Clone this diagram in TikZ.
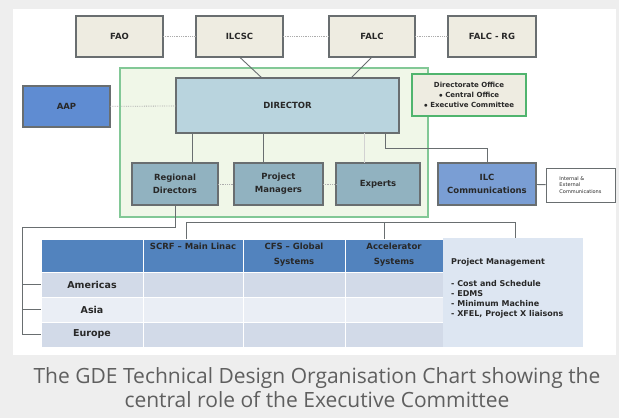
\documentclass[tikz,border=0pt]{standalone}
\usepackage{fontspec}
\setmainfont{DejaVu Sans}
\newfontfamily\capfont{Open Sans}
\usetikzlibrary{calc}

\definecolor{pagegray}{RGB}{238,238,238}
\definecolor{capgray}{RGB}{95,95,95}
\definecolor{beige}{RGB}{238,236,225}
\definecolor{framefill}{RGB}{240,247,232}
\definecolor{framegreen}{RGB}{130,200,150}
\definecolor{officegreen}{RGB}{80,180,110}
\definecolor{dirblue}{RGB}{185,212,222}
\definecolor{subblue}{RGB}{145,178,192}
\definecolor{aapblue}{RGB}{95,140,210}
\definecolor{commblue}{RGB}{122,158,212}
\definecolor{hdrblue}{RGB}{82,131,190}
\definecolor{rowdark}{RGB}{210,218,232}
\definecolor{rowlight}{RGB}{234,238,245}
\definecolor{pmfill}{RGB}{221,230,242}
\definecolor{boxline}{RGB}{105,110,112}
\definecolor{txtdark}{RGB}{40,40,40}

\tikzset{
  orgbox/.style={draw=boxline, line width=1.1pt, inner sep=1pt, outer sep=0pt,
    align=center, text=txtdark, font=\fontsize{8.5}{13}\selectfont\bfseries},
  topbox/.style={orgbox, fill=beige},
  subbox/.style={orgbox, fill=subblue},
  link/.style={draw=boxline, line width=0.9pt},
  dotlink/.style={draw=gray!65, line width=0.8pt, densely dotted},
  cell/.style={draw=white, line width=0.8pt, inner sep=0pt, outer sep=0pt,
    text=txtdark, font=\fontsize{9.5}{11}\selectfont\bfseries},
  hdrtext/.style={inner sep=0pt, align=center, text=txtdark,
    font=\fontsize{8.5}{14.5}\selectfont\bfseries},
}

\begin{document}
\begin{tikzpicture}[x=1pt, y=-1pt]
  \useasboundingbox (0,0) rectangle (619,418);
  % page and caption strip
  \fill[pagegray] (0,0) rectangle (619,418);
  \fill[white] (13,9) rectangle (616,355);

  % committees on top
  \node[topbox, minimum width=87pt, minimum height=41pt] (fao) at (119.5,36.5) {FAO};
  \node[topbox, minimum width=87pt, minimum height=41pt] (ilcsc) at (239.5,36.5) {ILCSC};
  \node[topbox, minimum width=86pt, minimum height=41pt] (falc) at (372,36.5) {FALC};
  \node[topbox, minimum width=88pt, minimum height=41pt] (falcrg) at (492,36.5) {FALC - RG};
  \draw[dotlink] (fao) -- (ilcsc);
  \draw[dotlink] (ilcsc) -- (falc);
  \draw[dotlink] (falc) -- (falcrg);

  % executive committee frame
  \node[draw=framegreen, fill=framefill, line width=1.1pt, minimum width=308pt,
    minimum height=149pt, inner sep=0pt] (exec) at (274,142.5) {};
  \node[orgbox, fill=dirblue, minimum width=223pt, minimum height=55pt] (dir) at (287.5,105.5) {DIRECTOR};
  \node[orgbox, draw=officegreen, fill=beige, minimum width=114pt, minimum height=42pt,
    font=\fontsize{7}{10}\selectfont\bfseries] (office) at (469,95)
    {Directorate Office\\ $\bullet$ Central Office\\ $\bullet$ Executive Committee};
  \node[orgbox, fill=aapblue, minimum width=87pt, minimum height=41pt] (aap) at (66.5,106.5) {AAP};

  \draw[link] (ilcsc.south) -- ($(dir.north)+(-25.5,0)$);
  \draw[link] (falc.south) -- ($(dir.north)+(63.5,0)$);
  \draw[dotlink] (aap) -- (dir);

  % second row
  \node[subbox, minimum width=86pt, minimum height=42pt] (regdir) at (175,184) {Regional\\ Directors};
  \node[subbox, minimum width=89pt, minimum height=42pt] (projman) at (278.5,184) {Project\\ Managers};
  \node[subbox, minimum width=84pt, minimum height=42pt] (experts) at (378,184) {Experts};
  \node[orgbox, fill=commblue, minimum width=98pt, minimum height=42pt] (ilccomm) at (487,184) {ILC\\ Communications};
  \node[draw=boxline, line width=1pt, fill=white, minimum width=69pt, minimum height=34pt,
    inner sep=1pt, align=left, text=txtdark, font=\fontsize{5}{6.5}\selectfont] (intext) at (580.5,185)
    {Internal \&\\ External\\ Communications};

  \coordinate (rdtop) at ($(regdir.north)+(17,0)$);
  \coordinate (pmtop) at ($(projman.north)+(-15.5,0)$);
  \coordinate (extop) at ($(experts.north)+(-14,0)$);
  \coordinate (dircomm) at ($(dir.south east)+(-14,0)$);
  \draw[link] (rdtop |- dir.south) -- (rdtop);
  \draw[link] (pmtop |- dir.south) -- (pmtop);
  \draw[link, draw=gray!35] (extop |- dir.south) -- (extop);
  \draw[link] (dircomm) |- ($(ilccomm.north)+(0,-15)$) -- (ilccomm.north);
  \draw[dotlink] (regdir) -- (projman);
  \draw[dotlink] (projman) -- (experts);
  \draw[link] (ilccomm) -- (intext);

  % matrix of regions and technical areas
  \node[cell, fill=hdrblue, minimum width=102pt, minimum height=33pt] (hd0) at (92,255.5) {};
  \node[cell, fill=hdrblue, minimum width=100pt, minimum height=33pt] (hd1) at (193,255.5) {};
  \node[cell, fill=hdrblue, minimum width=102pt, minimum height=33pt] (hd2) at (294,255.5) {};
  \node[cell, fill=hdrblue, minimum width=98pt, minimum height=33pt] (hd3) at (394,255.5) {};
  \node[hdrtext, anchor=north] (scrf) at (193,243) {SCRF -- Main Linac};
  \node[hdrtext, anchor=north] (cfs) at (294,243) {CFS -- Global\\ Systems};
  \node[hdrtext, anchor=north] (accsys) at (394,243) {Accelerator\\ Systems};

  \node[cell, fill=rowdark, minimum width=102pt, minimum height=25pt] (am0) at (92,284.5) {Americas};
  \node[cell, fill=rowdark, minimum width=100pt, minimum height=25pt] (am1) at (193,284.5) {};
  \node[cell, fill=rowdark, minimum width=102pt, minimum height=25pt] (am2) at (294,284.5) {};
  \node[cell, fill=rowdark, minimum width=98pt, minimum height=25pt] (am3) at (394,284.5) {};
  \node[cell, fill=rowlight, minimum width=102pt, minimum height=25pt] (as0) at (92,309.5) {Asia};
  \node[cell, fill=rowlight, minimum width=100pt, minimum height=25pt] (as1) at (193,309.5) {};
  \node[cell, fill=rowlight, minimum width=102pt, minimum height=25pt] (as2) at (294,309.5) {};
  \node[cell, fill=rowlight, minimum width=98pt, minimum height=25pt] (as3) at (394,309.5) {};
  \node[cell, fill=rowdark, minimum width=102pt, minimum height=25pt] (eu0) at (92,334.5) {Europe};
  \node[cell, fill=rowdark, minimum width=100pt, minimum height=25pt] (eu1) at (193,334.5) {};
  \node[cell, fill=rowdark, minimum width=102pt, minimum height=25pt] (eu2) at (294,334.5) {};
  \node[cell, fill=rowdark, minimum width=98pt, minimum height=25pt] (eu3) at (394,334.5) {};

  \node[fill=pmfill, minimum width=140pt, minimum height=109pt, inner sep=0pt] (pmpanel) at (513,292.5) {};
  \node[anchor=north west, inner sep=0pt, align=left, text=txtdark,
    font=\fontsize{8}{10}\selectfont\bfseries] (pmtext) at (451,258)
    {Project Management\\[12pt] - Cost and Schedule\\ - EDMS\\ - Minimum Machine\\ - XFEL, Project X liaisons};

  % links down to the matrix
  \draw[link] ($(hd1.north west)+(43,0)$) |- ($(pmpanel.north)+(2,-15)$) -- ($(pmpanel.north)+(2,0)$);
  \draw[link] ($(hd3.north)+(-10,0)$) -- ++(0,-16);
  \draw[link] ($(projman.south)+(9.5,0)$) -- ($(projman.south)+(9.5,0)$ |- hd2.north);
  \coordinate (rdleg) at (22,227);
  \draw[link] (regdir.south) |- (rdleg) |- (eu0.west);
  \draw[link] (rdleg |- am0.west) -- (am0.west);
  \draw[link] (rdleg |- as0.west) -- (as0.west);

  % caption
  \node[align=center, text=capgray, font=\capfont\fontsize{21}{24}\selectfont] (caption) at (317,388)
    {The GDE Technical Design Organisation Chart showing the\\ central role of the Executive Committee};
\end{tikzpicture}
\end{document}
